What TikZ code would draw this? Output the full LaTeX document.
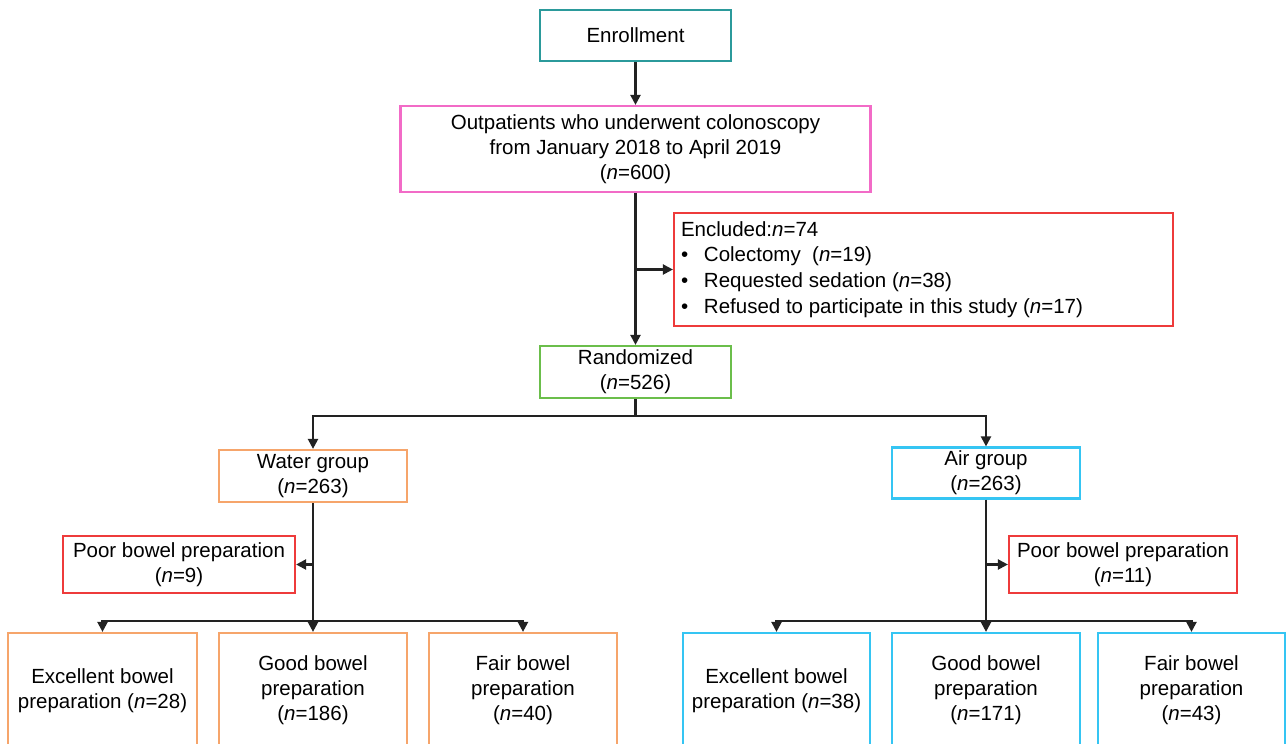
\documentclass[tikz,border=0pt]{standalone}
\usepackage{fontspec}
\setmainfont{Liberation Sans}
\usetikzlibrary{arrows.meta}
\definecolor{cteal}{HTML}{2B9A9B}
\definecolor{cpink}{HTML}{F26BC7}
\definecolor{cred}{HTML}{EE3B3B}
\definecolor{cgreen}{HTML}{6BBE4B}
\definecolor{corange}{HTML}{F6A56B}
\definecolor{ccyan}{HTML}{35C5F3}
\definecolor{cline}{HTML}{222222}
\begin{document}
\begin{tikzpicture}[x=1pt,y=-1pt,
  box/.style={draw, line width=2.2pt, align=center, inner sep=0pt,
    font=\fontsize{20.5}{25}\selectfont},
  conn/.style={line width=2.2pt, draw=cline},
  arr/.style={conn, -{Triangle[length=10pt,width=10pt]}}]
\useasboundingbox (0,0) rectangle (1286,744);
\clip (0,0) rectangle (1286,744);

\node[box, draw=cteal, minimum width=191pt, minimum height=51pt] (enr) at (635.5,35.5) {Enrollment};
\node[box, draw=cpink, minimum width=470pt, minimum height=86pt] (out) at (635.5,149)
  {Outpatients who underwent colonoscopy\\from January 2018 to April 2019\\(\textit{n}=600)};
\node[box, draw=cred, minimum width=499pt, minimum height=113pt, text width=485pt, align=flush left,
  font=\fontsize{20.5}{25.8}\selectfont] (exc) at (923.5,269.5)
  {Encluded:\textit{n}=74\\
   \makebox[23pt][l]{\textbullet}Colectomy\ \ (\textit{n}=19)\\
   \makebox[23pt][l]{\textbullet}Requested sedation (\textit{n}=38)\\
   \makebox[23pt][l]{\textbullet}Refused to participate in this study (\textit{n}=17)};
\node[box, draw=cgreen, minimum width=191pt, minimum height=52pt] (rand) at (635.5,372) {Randomized\\(\textit{n}=526)};

\node[box, draw=corange, minimum width=188pt, minimum height=52pt] (water) at (313,476) {Water group\\(\textit{n}=263)};
\node[box, draw=ccyan, minimum width=188pt, minimum height=51pt] (air) at (986,473) {Air group\\(\textit{n}=263)};

\node[box, draw=cred, minimum width=232pt, minimum height=57pt] (wpoor) at (179,564.5) {Poor bowel preparation\\(\textit{n}=9)};
\node[box, draw=cred, minimum width=228pt, minimum height=57pt] (apoor) at (1123,564.5) {Poor bowel preparation\\(\textit{n}=11)};

\node[box, draw=corange, minimum width=189pt, minimum height=115pt] (wex) at (102.5,690.5) {Excellent bowel\\preparation (\textit{n}=28)};
\node[box, draw=corange, minimum width=188pt, minimum height=115pt] (wgo) at (313,690.5) {Good bowel\\preparation\\(\textit{n}=186)};
\node[box, draw=corange, minimum width=188pt, minimum height=115pt] (wfa) at (523,690.5) {Fair bowel\\preparation\\(\textit{n}=40)};

\node[box, draw=ccyan, minimum width=187pt, minimum height=115pt] (aex) at (776.5,690.5) {Excellent bowel\\preparation (\textit{n}=38)};
\node[box, draw=ccyan, minimum width=188pt, minimum height=115pt] (ago) at (986,690.5) {Good bowel\\preparation\\(\textit{n}=171)};
\node[box, draw=ccyan, minimum width=187pt, minimum height=115pt] (afa) at (1191.5,690.5) {Fair bowel\\preparation\\(\textit{n}=43)};

% connectors
\draw[arr] (enr) -- (out);
\draw[arr] (out.south) -- (out.south |- rand.north);
\draw[arr] (out.south |- exc.west) -- (exc.west);

\draw[conn] (rand.south) -- ++(0,17) coordinate (rs);
\draw[arr] (rs) -| (water.north);
\draw[arr] (rs) -| (air.north);

\draw[conn] (water.south) -- ++(0,118) coordinate (ws);
\draw[arr] (water.south |- wpoor.east) -- (wpoor.east);
\draw[arr] (ws) -| (wex.north);
\draw[arr] (ws) -| (wfa.north);
\draw[arr] (ws) -- (wgo.north);

\draw[conn] (air.south) -- ++(0,121) coordinate (as);
\draw[arr] (air.south |- apoor.west) -- (apoor.west);
\draw[arr] (as) -| (aex.north);
\draw[arr] (as) -| (afa.north);
\draw[arr] (as) -- (ago.north);
\end{tikzpicture}
\end{document}
